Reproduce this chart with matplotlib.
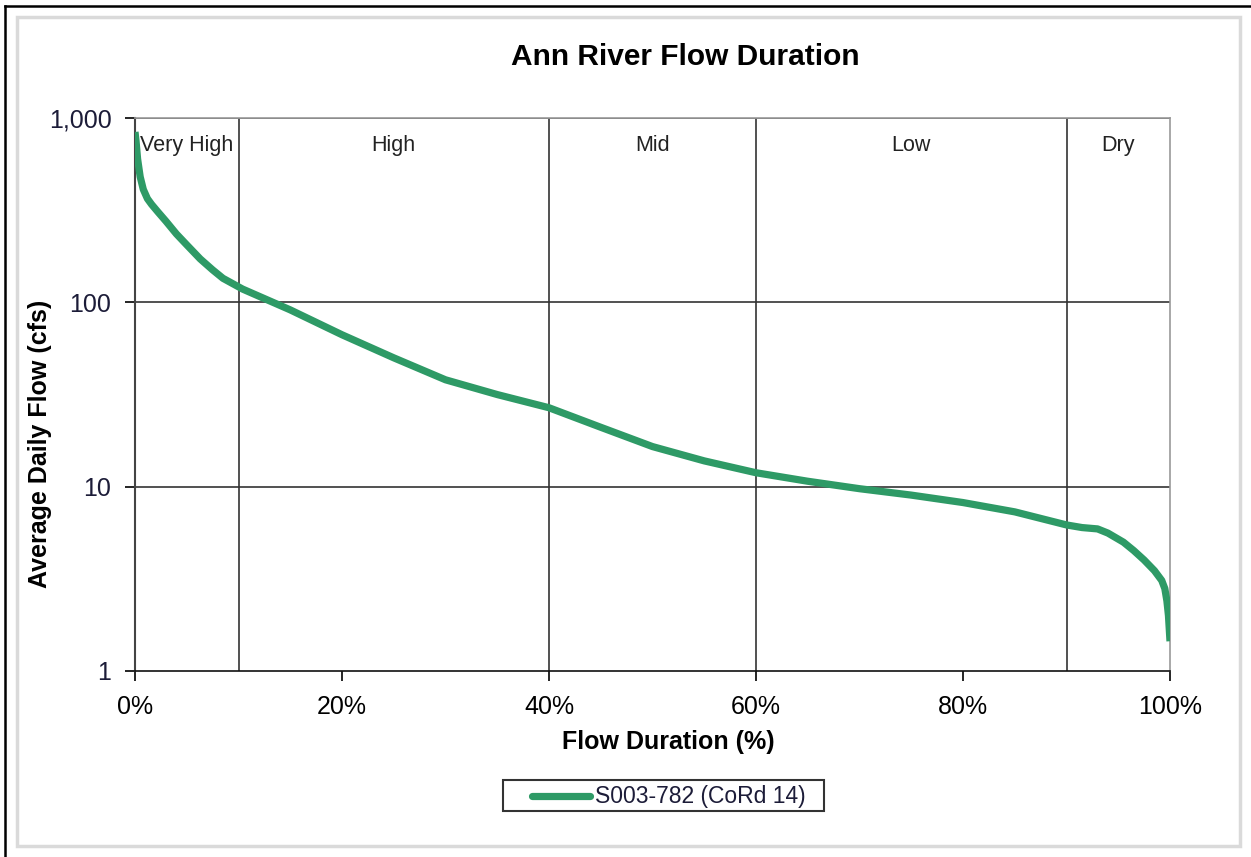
import numpy as np
import matplotlib.pyplot as plt
from matplotlib.lines import Line2D
from matplotlib.patches import Rectangle
from matplotlib.ticker import FixedLocator, FuncFormatter

plt.rcParams['font.family'] = ['Liberation Sans', 'DejaVu Sans']

# Flow duration curve (percent of time exceeded vs. average daily flow, cfs)
duration_pct = [0.0, 0.1, 0.25, 0.5, 0.8, 1.2, 1.6, 2.2, 3.0, 4.0, 5.0, 6.3,
                7.5, 8.5, 10.4, 15, 20, 25, 30, 35, 40, 45, 50, 55, 60, 65,
                70, 75, 80, 85, 90, 91.5, 93, 94, 95.5, 96.5, 97.5, 98.5,
                99.2, 99.5, 99.7, 99.85, 100.0]
flow_cfs = [840, 750, 600, 480, 410, 365, 340, 310, 275, 235, 205, 172,
            150, 135, 118, 91, 66.7, 50, 38, 31.6, 26.8, 21, 16.5, 13.8,
            11.9, 10.7, 9.75, 9.0, 8.2, 7.3, 6.2, 6.0, 5.9, 5.6, 5.0, 4.5,
            4.0, 3.5, 3.1, 2.8, 2.4, 2.0, 1.45]

zone_edges = [10, 40, 60, 90]
zone_names = ["Very High", "High", "Mid", "Low", "Dry"]
zone_centers = [5, 25, 50, 75, 95]

series_label = "S003-782 (CoRd 14)"
line_color = "#2E9A66"

fig = plt.figure(figsize=(12.51, 8.57), dpi=100)
ax = fig.add_axes([135 / 1251, 1 - 671 / 857, 1035 / 1251, 553 / 857])

ax.plot(duration_pct, flow_cfs, color=line_color, lw=5.2,
        solid_capstyle='butt', solid_joinstyle='round', zorder=3)

ax.set_yscale('log')
ax.set_xlim(0, 100)
ax.set_ylim(1, 1000)

ax.yaxis.set_major_locator(FixedLocator([1, 10, 100, 1000]))
ax.yaxis.set_minor_locator(FixedLocator([]))
ax.yaxis.set_major_formatter(FuncFormatter(lambda v, p: f"{v:,.0f}"))
ax.xaxis.set_major_locator(FixedLocator(np.arange(0, 101, 20)))
ax.xaxis.set_major_formatter(FuncFormatter(lambda v, p: f"{v:.0f}%"))

ax.tick_params(axis='both', direction='out', length=7, width=1.2,
               labelsize=18, colors='black', pad=10)
ax.tick_params(axis='y', labelcolor='#1C1C38')

for v in [10, 100, 1000]:
    ax.axhline(v, color='#333333', lw=1.2, zorder=1)
for e in zone_edges:
    ax.axvline(e, color='#333333', lw=1.2, zorder=1)

for c, name in zip(zone_centers, zone_names):
    ax.text(c, 0.95, name, transform=ax.get_xaxis_transform(),
            ha='center', va='center', fontsize=15.5, color='#222222')

for side in ['top', 'right']:
    ax.spines[side].set_color('#999999')
    ax.spines[side].set_linewidth(1.2)
ax.spines['left'].set_color('#444444')
ax.spines['left'].set_linewidth(1.5)
ax.spines['bottom'].set_color('#111111')
ax.spines['bottom'].set_linewidth(1.2)

fig.text(685 / 1251, 1 - 57 / 857, "Ann River Flow Duration", ha='center',
         va='center', fontsize=21.5, fontweight='bold')
fig.text(668 / 1251, 1 - 742 / 857, "Flow Duration (%)", ha='center',
         va='center', fontsize=18, fontweight='bold')
fig.text(40 / 1251, 1 - 444 / 857, "Average Daily Flow (cfs)", ha='center',
         va='center', fontsize=18, fontweight='bold', rotation=90)

# legend box drawn by hand so the sample line sits inset from the frame
fig.patches.append(Rectangle((503 / 1251, 1 - 811 / 857), 321 / 1251,
                             31 / 857, transform=fig.transFigure,
                             facecolor='white', edgecolor='#333333', lw=1.5))
fig.lines.append(Line2D([532 / 1251, 590 / 1251],
                        [1 - 796 / 857, 1 - 796 / 857],
                        transform=fig.transFigure, color=line_color, lw=5.2,
                        solid_capstyle='round'))
fig.text(595 / 1251, 1 - 796 / 857, series_label, ha='left', va='center',
         fontsize=16.5, color='#1C1C38')

# chart area frame and outer page border
fig.patches.append(Rectangle((17 / 1251, 1 - 846 / 857), 1223 / 1251,
                             829 / 857, transform=fig.transFigure,
                             fill=False, edgecolor='#DADADA', lw=2.5))
fig.lines.append(Line2D([5 / 1251, 5 / 1251], [0, 1 - 6 / 857],
                        transform=fig.transFigure, color='black', lw=1.8))
fig.lines.append(Line2D([5 / 1251, 1], [1 - 6 / 857, 1 - 6 / 857],
                        transform=fig.transFigure, color='black', lw=1.8))

fig.savefig("out.png", dpi=100)
